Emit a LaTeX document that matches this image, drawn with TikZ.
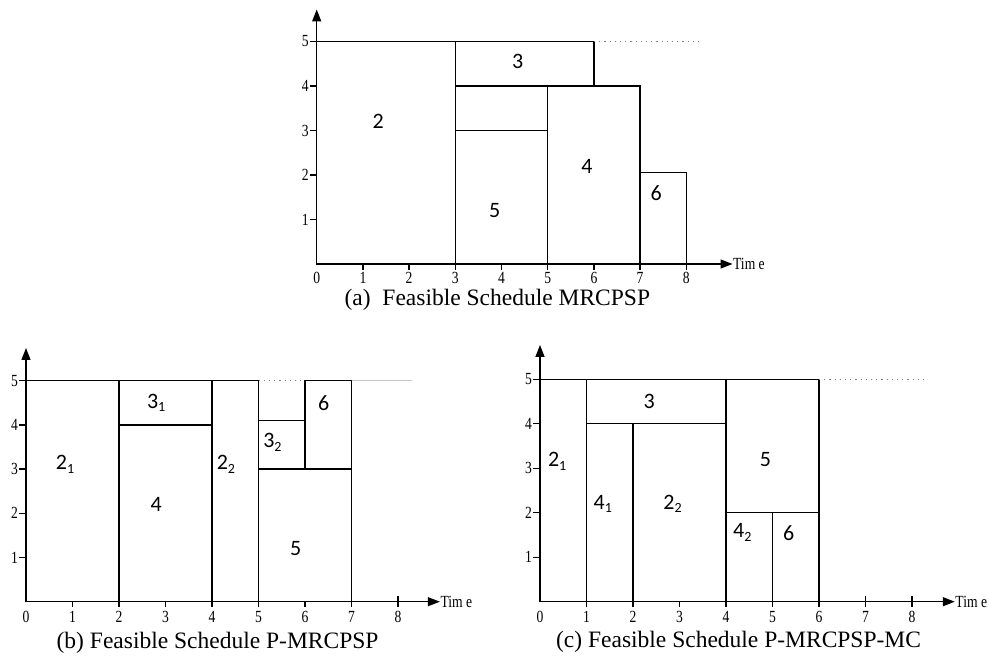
\documentclass[tikz,border=0pt]{standalone}
\usepackage{fontspec}
\setmainfont{Liberation Serif}
\newfontfamily\boxfont{Carlito}
\newfontfamily\tickfont[FakeStretch=0.8]{Liberation Serif}
\usetikzlibrary{arrows.meta}
\newcommand{\lowidx}[1]{\raisebox{-0.35ex}{\fontsize{7}{8}\selectfont #1}}

\begin{document}
\begin{tikzpicture}
  [x=0.5pt,y=0.5pt,line width=0.65pt,every node/.style={inner sep=0pt}]
 \tikzset{axis/.style = {-{Triangle[length=6pt,width=4.5pt]}},
   job/.style = {font=\boxfont\fontsize{11}{12}\selectfont},
   tick/.style = {font=\tickfont\fontsize{8.5}{9}\selectfont},
   limit/.style = {gray,dotted,line width=0.6pt},
   caption/.style = {font=\fontsize{11.75}{14}\selectfont}}
  \useasboundingbox (0,0) rectangle (989,655);

  % (a) MRCPSP
  \begin{scope}[shift={(316.7,391)},x=23.1pt,y=22.25pt]
  \draw (0,0) rectangle (3,5);
  \draw (3,4) rectangle (6,5);
  \draw (3,3) rectangle (5,4);
  \draw (3,0) rectangle (5,3);
  \draw (5,0) rectangle (7,4);
  \draw (7,0) rectangle (8,2.05);
  \draw[limit] (6,5) -- (8.3,5);
  \node[job] (a2) at (1.33,3.2) {2};
  \node[job] (a3) at (4.35,4.55) {3};
  \node[job] (a5) at (3.85,1.2) {5};
  \node[job] (a4) at (5.85,2.2) {4};
  \node[job] (a6) at (7.35,1.6) {6};
  \draw[axis] (0,0) -- (0,5.72);
  \draw[axis] (0,0) -- (9,0);
  \node[tick,anchor=west] (atime) at (9,0) {Tim e};
  \foreach \y in {1,...,5} {
    \draw (-0.15,\y) -- (0,\y);
    \node[tick,anchor=east] (ay\y) at (-0.16,\y) {\y};
  }
  \node[tick] (ax0) at (0,-0.31) {0};
  \foreach \x in {1,...,8} {
    \draw (\x,0) -- (\x,-0.13);
    \node[tick] (ax\x) at (\x,-0.31) {\x};
  }
  \node[caption] (acap) at (3.91,-0.8) {(a)~ Feasible Schedule MRCPSP};
  \end{scope}

  % (b) P-MRCPSP
  \begin{scope}[shift={(26,53.3)},x=23.25pt,y=22.1pt]
  \draw (0,0) rectangle (2,5);
  \draw (2,0) rectangle (4,4);
  \draw (2,4) rectangle (4,5);
  \draw (4,0) rectangle (5,5);
  \draw (5,0) rectangle (7,3);
  \draw (5,3) rectangle (6,4.1);
  \draw (6,3) rectangle (7,5);
  \draw[limit] (5,5) -- (6,5);
  \draw[gray!45] (7,5) -- (8.3,5);
  \node[job] (b21) at (0.84,3.1) {2\lowidx{1}};
  \node[job] (b31) at (2.8,4.5) {3\lowidx{1}};
  \node[job] (b4) at (2.8,2.2) {4};
  \node[job] (b22) at (4.3,3.1) {2\lowidx{2}};
  \node[job] (b32) at (5.3,3.6) {3\lowidx{2}};
  \node[job] (b6) at (6.4,4.5) {6};
  \node[job] (b5) at (5.8,1.2) {5};
  \draw[axis] (0,0) -- (0,5.74);
  \draw[axis] (0,0) -- (8.9,0);
  \node[tick,anchor=west] (btime) at (8.9,0) {Tim e};
  \foreach \y in {1,...,5} {
    \draw (-0.15,\y) -- (0,\y);
    \node[tick,anchor=east] (by\y) at (-0.16,\y) {\y};
  }
  \node[tick] (bx0) at (0,-0.35) {0};
  \foreach \x in {1,...,8} {
    \draw (\x,0) -- (\x,-0.13);
    \node[tick] (bx\x) at (\x,-0.35) {\x};
  }
  \draw (8,0) -- (8,0.13);
  \node[caption] (bcap) at (4.12,-0.93) {(b) Feasible Schedule P-MRCPSP};
  \end{scope}

  % (c) P-MRCPSP-MC
  \begin{scope}[shift={(540,53.3)},x=23.25pt,y=22.25pt]
  \draw (0,0) rectangle (1,5);
  \draw (1,4) rectangle (4,5);
  \draw (1,0) rectangle (2,4);
  \draw (2,0) rectangle (4,4);
  \draw (4,2) rectangle (6,5);
  \draw (4,0) rectangle (5,2);
  \draw (5,0) rectangle (6,2);
  \draw[limit] (6,5) -- (8.3,5);
  \node[job] (c21) at (0.37,3.15) {2\lowidx{1}};
  \node[job] (c3) at (2.35,4.5) {3};
  \node[job] (c41) at (1.35,2.2) {4\lowidx{1}};
  \node[job] (c22) at (2.85,2.2) {2\lowidx{2}};
  \node[job] (c5) at (4.85,3.2) {5};
  \node[job] (c42) at (4.35,1.55) {4\lowidx{2}};
  \node[job] (c6) at (5.35,1.55) {6};
  \draw[axis] (0,0) -- (0,5.77);
  \draw[axis] (0,0) -- (8.92,0);
  \node[tick,anchor=west] (ctime) at (8.92,0) {Tim e};
  \foreach \y in {1,...,5} {
    \draw (-0.15,\y) -- (0,\y);
    \node[tick,anchor=east] (cy\y) at (-0.16,\y) {\y};
  }
  \node[tick] (cx0) at (0,-0.35) {0};
  \foreach \x in {1,...,8} {
    \draw (\x,0) -- (\x,-0.13);
    \node[tick] (cx\x) at (\x,-0.35) {\x};
  }
  \foreach \x in {7,8}
    \draw (\x,0) -- (\x,0.13);
  \node[caption] (ccap) at (4.27,-0.9) {(c) Feasible Schedule P-MRCPSP-MC};
  \end{scope}

\end{tikzpicture}
\end{document}
